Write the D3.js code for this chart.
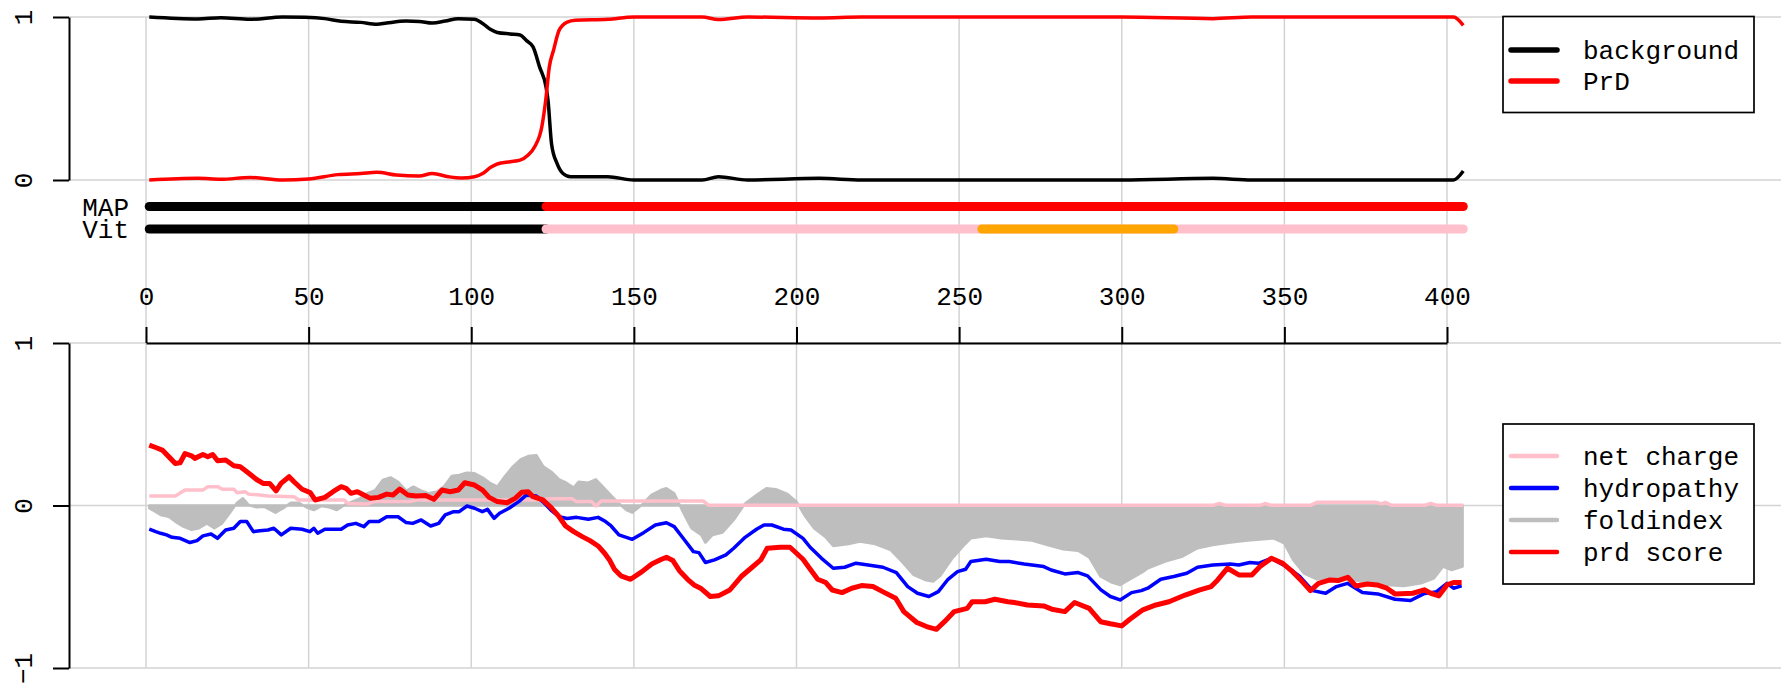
<!DOCTYPE html>
<html>
<head>
<meta charset="utf-8">
<script src="https://cdn.jsdelivr.net/npm/d3@7"></script>
<style>
  html, body { margin: 0; padding: 0; background: #fff; }
  svg { display: block; }
</style>
</head>
<body>
<div id="chart"></div>
<script>
'use strict';

// ---- data: [residue, value] ----
var backgroundProb = [[1,1.0],[16,0.988],[23,0.996],[32,0.986],[42,1.0],[49,0.998],[55,0.99],[60,0.974],[66,0.967],[71,0.955],[74,0.963],[80,0.975],[84,0.973],[88,0.963],[92,0.975],[96,0.99],[101,0.986],[103.5,0.96],[106,0.923],[108,0.905],[112,0.896],[115,0.89],[117,0.855],[119,0.817],[121,0.694],[123,0.57],[123.6,0.49],[124.7,0.22],[126.4,0.1],[128.2,0.04],[130.5,0.02],[142,0.02],[150,0.0],[171,0.0],[176,0.02],[185,0.0],[207,0.01],[220,0.0],[300,0.0],[328,0.01],[340,0.0],[402,0.0],[405,0.055]];
var prdProb = [[1,0],[16,0.01],[23,0.004],[32,0.016],[42,0],[50,0.006],[59,0.033],[66,0.04],[71,0.047],[77,0.03],[84,0.024],[88,0.04],[93,0.02],[97,0.012],[101,0.02],[103.5,0.04],[106,0.078],[108,0.098],[112,0.112],[115,0.122],[117.5,0.153],[119.5,0.204],[121.7,0.327],[122.9,0.49],[124,0.694],[125.3,0.796],[127,0.918],[129.5,0.969],[132,0.98],[142,0.986],[150,1.0],[171,1.0],[176,0.984],[185,1.0],[207,0.994],[220,1.0],[300,1.0],[328,0.99],[340,1.0],[402,1.0],[405,0.949]];

var netCharge = [[1,0.058],[9,0.058],[12,0.095],[17.5,0.095],[19,0.116],[22,0.116],[23.5,0.1],[27,0.1],[28,0.079],[30.5,0.085],[31.5,0.07],[35,0.065],[37.5,0.058],[45.5,0.054],[47,0.034],[61,0.034],[62,0.013],[68,0.009],[70,0.024],[81,0.024],[83,0.034],[122,0.034],[124,0.042],[131,0.042],[132.4,0.024],[137,0.024],[138.3,-0.003],[140,0.028],[171.3,0.028],[173,0.001],[328,0.001],[330,0.012],[332,0.001],[342.5,0.001],[344,0.012],[346,0.001],[358,0.001],[360,0.02],[378,0.02],[380,0.01],[381,0.02],[383,0.001],[393,0.001],[395,0.012],[397,0.001],[405,0.001]];
var hydropathy = [[1,-0.146],[3,-0.161],[4.5,-0.171],[6.3,-0.181],[8,-0.196],[10.5,-0.202],[13.5,-0.228],[15.7,-0.216],[17.5,-0.187],[20,-0.175],[22,-0.202],[24.5,-0.151],[27,-0.14],[29,-0.099],[31,-0.099],[33,-0.161],[35,-0.155],[37.5,-0.151],[39.3,-0.14],[41.6,-0.181],[44.5,-0.14],[48,-0.146],[50.4,-0.161],[51.6,-0.14],[52.8,-0.171],[55,-0.146],[60,-0.146],[62,-0.12],[64.5,-0.11],[67,-0.13],[68.6,-0.099],[71.6,-0.099],[74,-0.069],[77.5,-0.069],[80,-0.105],[82,-0.11],[84.6,-0.089],[87.5,-0.126],[90,-0.11],[92,-0.058],[94.6,-0.038],[96.3,-0.038],[98.7,-0.003],[101,-0.017],[103.4,-0.038],[105,-0.024],[107,-0.079],[108.7,-0.048],[111.6,-0.017],[114.6,0.024],[117,0.065],[120,0.058],[122,0.024],[124.5,-0.028],[127,-0.069],[129.5,-0.08],[132.4,-0.073],[136,-0.085],[139,-0.073],[141.3,-0.099],[143,-0.126],[145.4,-0.181],[149.5,-0.208],[153,-0.167],[156.6,-0.12],[160,-0.106],[162.4,-0.13],[165.4,-0.208],[168.3,-0.284],[170,-0.29],[172,-0.351],[174.8,-0.335],[178.3,-0.304],[180.7,-0.263],[184.2,-0.196],[187.7,-0.146],[190,-0.12],[192.4,-0.12],[196,-0.146],[198.3,-0.151],[202,-0.202],[204.2,-0.257],[207.7,-0.325],[211.3,-0.386],[214.8,-0.38],[218.3,-0.355],[222,-0.366],[226.6,-0.38],[230.7,-0.413],[234.2,-0.499],[237.2,-0.54],[240.7,-0.56],[243.6,-0.53],[246.6,-0.454],[249.5,-0.407],[252,-0.392],[253.6,-0.345],[258.3,-0.331],[262.5,-0.345],[265.4,-0.345],[270,-0.36],[276,-0.376],[278.3,-0.397],[282.5,-0.421],[286.6,-0.413],[289.5,-0.433],[293.6,-0.519],[296.5,-0.56],[299.5,-0.581],[303,-0.536],[306,-0.524],[308,-0.509],[312,-0.454],[316,-0.437],[320,-0.417],[323.3,-0.38],[328,-0.366],[333.4,-0.36],[336,-0.366],[339.4,-0.351],[342,-0.356],[346,-0.325],[350.7,-0.376],[354.7,-0.437],[358.7,-0.524],[362.7,-0.54],[366,-0.499],[369.4,-0.479],[374,-0.536],[378.7,-0.544],[384,-0.577],[388.8,-0.585],[392.8,-0.544],[396.8,-0.53],[400,-0.479],[402,-0.509],[404.5,-0.495]];
var foldIndex = [[1,-0.017],[2,-0.028],[4.5,-0.058],[7,-0.069],[9,-0.099],[11.5,-0.13],[14,-0.15],[16.3,-0.14],[18.7,-0.11],[21,-0.14],[23.4,-0.11],[25.7,-0.048],[28,0.017],[29.8,0.044],[31.6,0.003],[34,-0.011],[36.3,-0.007],[39.8,-0.044],[42.2,-0.017],[44.5,0.017],[47,0.017],[49.3,-0.011],[51.6,-0.028],[54,-0.003],[56.3,-0.011],[58.7,-0.028],[61,0.003],[63.4,0.024],[65.8,0.044],[68,0.075],[70.5,0.095],[72.8,0.157],[75.2,0.173],[77.5,0.146],[80,0.091],[82.2,0.116],[84.6,0.091],[87,0.075],[89.3,0.085],[91.6,0.116],[94,0.181],[96.3,0.188],[98.7,0.202],[101,0.198],[103.4,0.173],[105.7,0.14],[108,0.116],[110.4,0.181],[112.8,0.239],[115.2,0.284],[117.5,0.304],[120,0.31],[122.2,0.239],[124.6,0.208],[127,0.161],[129.2,0.14],[131.5,0.11],[133,0.146],[136,0.14],[138.3,0.161],[140,0.126],[142.4,0.075],[144.8,0.024],[147.7,-0.028],[149.5,-0.044],[152.4,0.003],[155.4,0.065],[158.3,0.095],[160,0.106],[162.4,0.075],[164.8,-0.028],[167.7,-0.14],[170.7,-0.181],[172,-0.228],[174.2,-0.181],[177.2,-0.167],[180.7,-0.089],[184.2,0.013],[187.7,0.065],[190.7,0.106],[193.6,0.1],[197.2,0.071],[200,0.024],[202.4,-0.058],[205.4,-0.14],[209,-0.196],[211.3,-0.249],[216,-0.237],[219.5,-0.222],[224.2,-0.237],[229,-0.274],[232.4,-0.345],[236,-0.427],[239.5,-0.458],[242,-0.468],[244.2,-0.433],[247.7,-0.331],[251.3,-0.249],[253.6,-0.202],[258.3,-0.188],[263,-0.202],[267.7,-0.208],[272.4,-0.216],[277.2,-0.243],[282,-0.27],[286.6,-0.278],[290,-0.319],[293.5,-0.437],[297,-0.474],[299.5,-0.489],[303,-0.448],[306.6,-0.407],[308,-0.386],[313.3,-0.345],[318.7,-0.314],[323.3,-0.263],[328,-0.243],[333.4,-0.228],[338.7,-0.216],[343.4,-0.208],[346.7,-0.202],[350,-0.233],[352.7,-0.335],[356,-0.417],[360,-0.454],[365.4,-0.442],[370.7,-0.454],[376,-0.479],[381.4,-0.489],[386.8,-0.495],[392,-0.479],[396,-0.448],[398.8,-0.376],[401.4,-0.397],[404.8,-0.376]];
var prdScore = [[1,0.372],[3,0.357],[5,0.341],[7.5,0.29],[9,0.259],[10.5,0.263],[12,0.32],[14,0.306],[15,0.29],[17.5,0.314],[19,0.3],[20.5,0.314],[22,0.276],[24.5,0.28],[27,0.245],[29,0.239],[31.5,0.2],[34,0.16],[36,0.136],[38,0.136],[40,0.09],[41.5,0.136],[44,0.177],[45.5,0.146],[48,0.1],[50.5,0.079],[52,0.034],[55,0.05],[57.5,0.085],[60,0.116],[61.5,0.106],[63,0.075],[65,0.085],[67,0.065],[69,0.044],[71.5,0.05],[74,0.07],[76,0.065],[78,0.101],[80.5,0.065],[83,0.058],[86,0.062],[88.5,0.038],[91,0.095],[93.5,0.085],[96,0.095],[98,0.14],[101,0.126],[103.5,0.095],[105.5,0.05],[108,0.024],[111,0.017],[113.5,0.044],[115.5,0.081],[117.5,0.085],[119,0.054],[122,0.034],[124.5,-0.011],[127,-0.069],[129,-0.126],[131.5,-0.161],[134,-0.19],[136.5,-0.216],[139,-0.249],[141,-0.294],[142.5,-0.335],[144,-0.392],[146,-0.433],[149,-0.454],[152.5,-0.407],[155.5,-0.36],[158.5,-0.331],[160,-0.319],[162,-0.339],[164,-0.401],[166.5,-0.454],[168.5,-0.489],[170.5,-0.509],[173.5,-0.56],[176,-0.556],[179.5,-0.52],[183,-0.437],[186,-0.386],[189,-0.335],[191,-0.263],[195,-0.257],[198,-0.257],[202,-0.331],[204,-0.386],[206.5,-0.454],[209,-0.474],[211,-0.52],[214,-0.536],[217,-0.509],[220,-0.493],[223.5,-0.499],[226.5,-0.53],[230.5,-0.571],[233,-0.653],[237,-0.72],[240,-0.745],[243,-0.762],[245.5,-0.715],[248.5,-0.653],[252.5,-0.633],[254,-0.592],[258,-0.592],[261,-0.577],[265,-0.592],[267,-0.597],[271,-0.612],[276,-0.618],[278.5,-0.638],[282.5,-0.653],[285.5,-0.597],[290,-0.633],[293.5,-0.715],[296.5,-0.728],[300,-0.741],[302.5,-0.7],[306.5,-0.642],[310.5,-0.612],[314.5,-0.592],[319.5,-0.551],[324,-0.519],[327.5,-0.499],[329.5,-0.458],[332.5,-0.386],[336,-0.427],[340,-0.427],[342.5,-0.376],[346,-0.325],[349.5,-0.356],[352.5,-0.407],[355.5,-0.468],[358,-0.524],[360.5,-0.479],[364,-0.458],[366.5,-0.462],[369.5,-0.442],[372,-0.495],[375.5,-0.483],[378.5,-0.489],[381.5,-0.509],[384,-0.544],[389.5,-0.54],[393,-0.519],[395,-0.54],[397.5,-0.556],[400,-0.489],[402,-0.474],[404.5,-0.474]];

// parse tracks: [from, to, state]
var mapTrack = [[1, 123, 'background'], [123, 405, 'PrD']];
var vitTrack = [[1, 123, 'background'], [123, 405, 'weak'], [257, 316, 'core']];
var trackNames = ['MAP', 'Vit'];

var xTicks = [0, 50, 100, 150, 200, 250, 300, 350, 400];
var topYTicks = [0, 1];
var botYTicks = [-1, 0, 1];
var topLegend = ['background', 'PrD'];
var botLegend = ['net charge', 'hydropathy', 'foldindex', 'prd score'];

// ---- drawing ----
var W = 1781, H = 683,
    FONT = '"Liberation Mono", "Courier New", monospace',
    FS = 26,
    axisX = 69,
    grid = '#d3d3d3',
    stateColor = {background: '#000000', PrD: '#ff0000', weak: '#ffc0cb', core: '#ffa500'};

var svg = d3.select('#chart').append('svg')
    .attr('width', W).attr('height', H)
    .style('font-family', FONT);

var x = d3.scaleLinear().domain([0, 400]).range([146, 1447]),
    yTop = d3.scaleLinear().domain([0, 1]).range([180, 17]),
    yBot = d3.scaleLinear().domain([-1, 1]).range([668, 343]);

// grid
var g = svg.append('g').attr('stroke', grid).attr('stroke-width', 1.5);
g.selectAll('line.v').data(xTicks).enter().append('line')
    .attr('x1', x).attr('x2', x)
    .attr('y1', yTop(1)).attr('y2', yBot(-1));
[yTop(0), yTop(1), yBot(-1), yBot(0), yBot(1)].forEach(function(yy){
    g.append('line').attr('x1', axisX).attr('x2', W).attr('y1', yy).attr('y2', yy);
});

function styleYAxis(sel){
    sel.attr('font-family', FONT).attr('font-size', FS);
    sel.select('.domain').attr('stroke-width', 2);
    sel.selectAll('.tick line').attr('stroke-width', 2);
    sel.selectAll('.tick text')
        .attr('x', 0).attr('dy', 0)
        .attr('text-anchor', 'middle')
        .attr('fill', '#000')
        .attr('transform', 'translate(-37,0) rotate(-90)');
}

// top panel axis
svg.append('g').attr('transform', 'translate(' + axisX + ',0)')
    .call(d3.axisLeft(yTop).tickValues(topYTicks).tickSize(16).tickSizeOuter(0).tickFormat(d3.format('d')))
    .call(styleYAxis);

// top panel curves
var lineTop = d3.line().x(function(d){ return x(d[0]); }).y(function(d){ return yTop(d[1]); })
    .curve(d3.curveMonotoneX);
svg.append('path').datum(backgroundProb).attr('d', lineTop)
    .attr('fill', 'none').attr('stroke', '#000').attr('stroke-width', 3.5).attr('stroke-linejoin', 'round');
svg.append('path').datum(prdProb).attr('d', lineTop)
    .attr('fill', 'none').attr('stroke', '#ff0000').attr('stroke-width', 3.5).attr('stroke-linejoin', 'round');

// parse tracks
var trackY = [206.5, 229];
[mapTrack, vitTrack].forEach(function(track, i){
    track.forEach(function(seg){
        svg.append('line')
            .attr('x1', x(seg[0])).attr('x2', x(seg[1]))
            .attr('y1', trackY[i]).attr('y2', trackY[i])
            .attr('stroke', stateColor[seg[2]])
            .attr('stroke-width', 9)
            .attr('stroke-linecap', 'round');
    });
    svg.append('text')
        .attr('x', 129).attr('y', trackY[i]).attr('dy', '0.35em')
        .attr('text-anchor', 'end').attr('font-size', FS)
        .text(trackNames[i]);
});

// top legend
function legend(top, labels, colors, lw){
    var gl = svg.append('g');
    gl.append('rect')
        .attr('x', 1503).attr('y', top.y0)
        .attr('width', 251).attr('height', top.y1 - top.y0)
        .attr('fill', '#fff').attr('stroke', '#000').attr('stroke-width', 1.7);
    labels.forEach(function(lab, i){
        var yy = top.first + i * top.step;
        gl.append('line')
            .attr('x1', 1511).attr('x2', 1557).attr('y1', yy).attr('y2', yy)
            .attr('stroke', colors[i]).attr('stroke-width', lw).attr('stroke-linecap', 'round');
        gl.append('text')
            .attr('x', 1583).attr('y', yy).attr('dy', '0.35em')
            .attr('font-size', FS).text(lab);
    });
}
legend({y0: 16.5, y1: 112.5, first: 50, step: 31}, topLegend, ['#000', '#ff0000'], 5.5);

// bottom panel axes
svg.append('g').attr('transform', 'translate(' + axisX + ',0)')
    .call(d3.axisLeft(yBot).tickValues(botYTicks).tickSize(16).tickSizeOuter(0).tickFormat(d3.format('d')))
    .call(styleYAxis);

var xAx = svg.append('g').attr('transform', 'translate(0,' + yBot(1) + ')')
    .call(d3.axisTop(x).tickValues(xTicks).tickSize(16).tickPadding(22).tickSizeOuter(0));
xAx.attr('font-family', FONT).attr('font-size', FS);
xAx.select('.domain').attr('stroke-width', 2);
xAx.selectAll('.tick line').attr('stroke-width', 2);
xAx.selectAll('.tick text').attr('fill', '#000');

// bottom panel curves
var lineBot = d3.line().x(function(d){ return x(d[0]); }).y(function(d){ return yBot(d[1]); });
var areaFold = d3.area().x(function(d){ return x(d[0]); }).y0(yBot(0)).y1(function(d){ return yBot(d[1]); });

svg.append('path').datum(foldIndex).attr('d', areaFold)
    .attr('fill', '#bebebe').attr('stroke', '#bebebe').attr('stroke-width', 2.5).attr('stroke-linejoin', 'round');
svg.append('path').datum(netCharge).attr('d', lineBot)
    .attr('fill', 'none').attr('stroke', '#ffc0cb').attr('stroke-width', 3.5).attr('stroke-linejoin', 'round');
svg.append('path').datum(hydropathy).attr('d', lineBot)
    .attr('fill', 'none').attr('stroke', '#0000ff').attr('stroke-width', 3.5).attr('stroke-linejoin', 'round');
svg.append('path').datum(prdScore).attr('d', lineBot)
    .attr('fill', 'none').attr('stroke', '#ff0000').attr('stroke-width', 5).attr('stroke-linejoin', 'round');

legend({y0: 424, y1: 584, first: 456, step: 32}, botLegend, ['#ffc0cb', '#0000ff', '#bebebe', '#ff0000'], 4.5);
</script>
</body>
</html>
